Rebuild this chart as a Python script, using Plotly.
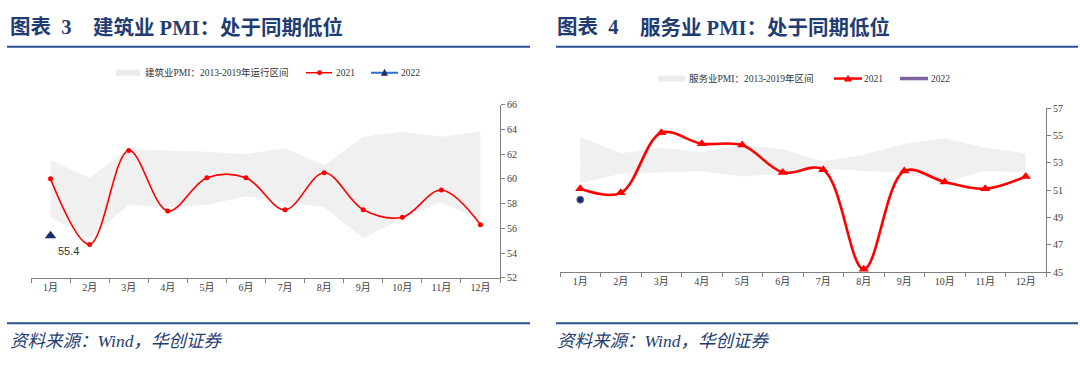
import plotly.graph_objects as go

months = ["1月", "2月", "3月", "4月", "5月", "6月", "7月", "8月", "9月", "10月", "11月", "12月"]

# Construction PMI
con_2021 = [60.0, 54.7, 62.3, 57.4, 60.1, 60.1, 57.5, 60.5, 57.5, 56.9, 59.1, 56.3]
con_2022 = [55.4]
con_band_low = [56.9, 55.2, 57.9, 57.7, 57.9, 58.6, 58.1, 57.7, 55.2, 56.8, 58.1, 56.6]
con_band_high = [61.5, 60.1, 62.4, 62.3, 62.2, 62.0, 62.5, 61.1, 63.4, 63.8, 63.4, 63.8]

# Services PMI
svc_2021 = [51.1, 50.8, 55.2, 54.4, 54.3, 52.3, 52.5, 45.2, 52.4, 51.6, 51.1, 52.0]
svc_2022 = [50.3]
svc_band_low = [51.5, 52.2, 52.3, 52.4, 52.0, 52.2, 52.6, 52.4, 52.3, 51.6, 52.4, 52.3]
svc_band_high = [54.9, 53.7, 54.1, 53.8, 54.3, 54.0, 53.1, 53.6, 54.4, 54.8, 54.1, 53.7]

W, H = 1080, 367
def px(x):
    return x / W
def py(y):
    return 1 - y / H

NAVY = "#1F3D73"
LINE_BLUE = "#2C4F8F"
BAND = "#F0F0F0"
RED = "#FF0000"
SERIF = "Liberation Serif, Noto Sans CJK SC"
TXT = "#404040"

fig = go.Figure()

# Left chart
fig.add_trace(go.Scatter(x=months, y=con_band_low, mode="lines", line=dict(width=0, color=BAND),
                         showlegend=False, hoverinfo="skip", xaxis="x", yaxis="y"))
fig.add_trace(go.Scatter(x=months, y=con_band_high, mode="lines", line=dict(width=0, color=BAND),
                         fill="tonexty", fillcolor=BAND, showlegend=False, xaxis="x", yaxis="y"))
fig.add_trace(go.Scatter(x=months, y=con_2021, mode="lines+markers",
                         line=dict(color=RED, width=1.6, shape="spline", smoothing=1.0),
                         marker=dict(color=RED, size=5, symbol="circle"),
                         showlegend=False, xaxis="x", yaxis="y"))
fig.add_trace(go.Scatter(x=months[:1], y=con_2022, mode="markers",
                         marker=dict(color="#1B2A6B", size=10, symbol="triangle-up"),
                         showlegend=False, xaxis="x", yaxis="y"))

# Right chart
fig.add_trace(go.Scatter(x=months, y=svc_band_low, mode="lines", line=dict(width=0, color=BAND),
                         showlegend=False, hoverinfo="skip", xaxis="x2", yaxis="y2"))
fig.add_trace(go.Scatter(x=months, y=svc_band_high, mode="lines", line=dict(width=0, color=BAND),
                         fill="tonexty", fillcolor=BAND, showlegend=False, xaxis="x2", yaxis="y2"))
fig.add_trace(go.Scatter(x=months, y=svc_2021, mode="lines+markers",
                         line=dict(color=RED, width=2.6, shape="spline", smoothing=1.0),
                         marker=dict(color=RED, size=9, symbol="triangle-up"),
                         showlegend=False, xaxis="x2", yaxis="y2"))
fig.add_trace(go.Scatter(x=months[:1], y=svc_2022, mode="markers",
                         marker=dict(color="#1B2A6B", size=7, symbol="circle",
                                     line=dict(color="#6F6FB0", width=1)),
                         showlegend=False, xaxis="x2", yaxis="y2"))

axis_common = dict(showgrid=False, zeroline=False, showline=True, linecolor="#808080", linewidth=1.2,
                   ticks="outside", ticklen=4, tickcolor="#808080",
                   tickfont=dict(family=SERIF, size=10, color=TXT))

fig.update_layout(
    width=W, height=H, margin=dict(l=0, r=0, t=0, b=0),
    paper_bgcolor="white", plot_bgcolor="white", showlegend=False,
    xaxis=dict(domain=[px(31), px(500)], type="category", range=[-0.5, 11.5],
               tickson="boundaries", anchor="y", **axis_common),
    yaxis=dict(domain=[py(281), py(102)], range=[52, 66], dtick=2, side="right",
               anchor="x", **axis_common),
    xaxis2=dict(domain=[px(560), px(1046)], type="category", range=[-0.5, 11.5],
                tickson="boundaries", anchor="y2", **axis_common),
    yaxis2=dict(domain=[py(275), py(105.7)], range=[45, 57], dtick=2, tick0=45, side="right",
                anchor="x2", **axis_common),
)

shapes = []
annotations = []

# Title underlines and bottom lines
for x0, x1 in [(7, 530), (556, 1078)]:
    shapes.append(dict(type="line", xref="paper", yref="paper", x0=px(x0), x1=px(x1),
                       y0=py(42), y1=py(42), line=dict(color=LINE_BLUE, width=2)))
    shapes.append(dict(type="line", xref="paper", yref="paper", x0=px(x0), x1=px(x1),
                       y0=py(328), y1=py(328), line=dict(color=LINE_BLUE, width=2)))

def txt(x, y, s, size, color, family=SERIF, bold=False, italic=False, xanchor="left"):
    if bold:
        s = "<b>" + s + "</b>"
    if italic:
        s = "<i>" + s + "</i>"
    annotations.append(dict(xref="paper", yref="paper", x=px(x), y=py(y), text=s, showarrow=False,
                            xanchor=xanchor, yanchor="middle",
                            font=dict(family=family, size=size, color=color)))

# Titles
txt(8, 22, "图表  3", 20.5, NAVY, bold=True)
txt(91, 22, "建筑业 PMI：处于同期低位", 20.5, NAVY, bold=True)
txt(555, 22, "图表  4", 20.5, NAVY, bold=True)
txt(638, 22, "服务业 PMI：处于同期低位", 20.5, NAVY, bold=True)

# Sources
txt(8, 346, "资料来源：Wind，华创证券", 17.5, NAVY, italic=True)
txt(555, 346, "资料来源：Wind，华创证券", 17.5, NAVY, italic=True)

# Annotation 55.4
annotations.append(dict(xref="x", yref="y", x=0, y=con_2022[0], text="55.4", showarrow=False,
                        xshift=18, yshift=-15, font=dict(family="Liberation Sans", size=11, color="#333333")))

# Left legend
ly = 69
shapes.append(dict(type="rect", xref="paper", yref="paper", x0=px(116), x1=px(140),
                   y0=py(ly + 3), y1=py(ly - 3), fillcolor="#EBEBEB", line=dict(width=0)))
txt(143, ly, "建筑业PMI：2013-2019年运行区间", 9.5, "#333333")
shapes.append(dict(type="line", xref="paper", yref="paper", x0=px(306), x1=px(332),
                   y0=py(ly), y1=py(ly), line=dict(color=RED, width=1.5)))
shapes.append(dict(type="circle", xref="paper", yref="paper", x0=px(317), x1=px(322),
                   y0=py(ly + 2.5), y1=py(ly - 2.5), fillcolor=RED, line=dict(width=0)))
txt(334, ly, "2021", 9.5, "#333333")
shapes.append(dict(type="line", xref="paper", yref="paper", x0=px(371), x1=px(398),
                   y0=py(ly), y1=py(ly), line=dict(color="#2F6FC8", width=2)))
shapes.append(dict(type="path", xref="paper", yref="paper",
                   path=f"M {px(381)} {py(ly + 3)} L {px(388)} {py(ly + 3)} L {px(384.5)} {py(ly - 4)} Z",
                   fillcolor="#1B2A6B", line=dict(width=0)))
txt(399, ly, "2022", 9.5, "#333333")

# Right legend
ry = 75
shapes.append(dict(type="rect", xref="paper", yref="paper", x0=px(658), x1=px(685),
                   y0=py(ry + 3), y1=py(ry - 3), fillcolor="#EBEBEB", line=dict(width=0)))
txt(687, ry, "服务业PMI：2013-2019年区间", 9.5, "#333333")
shapes.append(dict(type="line", xref="paper", yref="paper", x0=px(834), x1=px(862),
                   y0=py(ry), y1=py(ry), line=dict(color=RED, width=2.5)))
shapes.append(dict(type="path", xref="paper", yref="paper",
                   path=f"M {px(844)} {py(ry + 3)} L {px(852)} {py(ry + 3)} L {px(848)} {py(ry - 4)} Z",
                   fillcolor=RED, line=dict(width=0)))
txt(862, ry, "2021", 9.5, "#333333")
shapes.append(dict(type="line", xref="paper", yref="paper", x0=px(900), x1=px(928),
                   y0=py(ry), y1=py(ry), line=dict(color="#8064A2", width=3.5)))
txt(929, ry, "2022", 9.5, "#333333")

fig.update_layout(shapes=shapes, annotations=annotations)

fig.write_html("out.html", config={"displayModeBar": False},
               post_script="document.body.style.margin='0';document.body.style.overflow='hidden';")
